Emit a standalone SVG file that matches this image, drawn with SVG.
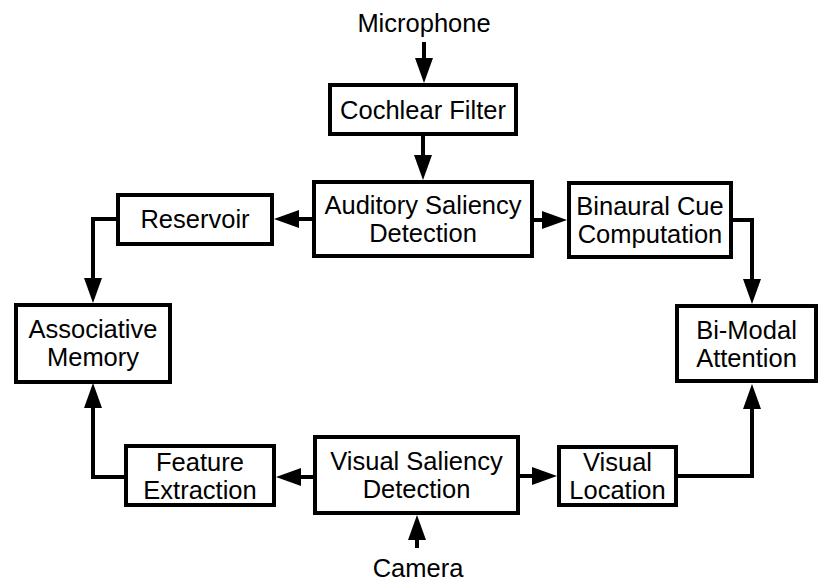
<svg xmlns="http://www.w3.org/2000/svg" width="822" height="583" viewBox="0 0 822 583">
<style>
.box{fill:#fff;stroke:#000;stroke-width:4}
.t{font-family:"Liberation Sans",Arial,sans-serif;font-size:25.5px;fill:#000;text-anchor:middle}
.c{fill:none;stroke:#000;stroke-width:4;marker-end:url(#ah)}
</style>
<defs>
<marker id="ah" markerUnits="userSpaceOnUse" markerWidth="26" markerHeight="18" refX="0" refY="9" orient="auto" overflow="visible">
<path d="M0,0 L25,9 L0,18 Z" fill="#000"/>
</marker>
</defs>
<rect width="822" height="583" fill="#fff"/>
<g id="connectors">
<path class="c" d="M424,42 L424,58"/>
<path class="c" d="M423,136 L423,155"/>
<path class="c" d="M312,219 L299,219"/>
<path class="c" d="M116,219 L93,219 L93,278"/>
<path class="c" d="M534,220 L542,220"/>
<path class="c" d="M733,220 L752,220 L752,279"/>
<path class="c" d="M124,477 L93,477 L93,408"/>
<path class="c" d="M313,477 L301,477"/>
<path class="c" d="M520,476 L532,476"/>
<path class="c" d="M678,476 L752,476 L752,409"/>
<path class="c" d="M417,548 L417,540"/>
</g>
<g id="microphone"><text class="t" x="424" y="32">Microphone</text></g>
<g id="camera"><text class="t" x="418" y="577">Camera</text></g>
<g id="cochlear"><rect class="box" x="330" y="85" width="186" height="49"/><text class="t" x="423" y="119">Cochlear Filter</text></g>
<g id="auditory"><rect class="box" x="314" y="182" width="218" height="74"/><text class="t" x="423" y="214">Auditory Saliency</text><text class="t" x="423" y="242">Detection</text></g>
<g id="reservoir"><rect class="box" x="118" y="195" width="154" height="49"/><text class="t" x="195" y="228">Reservoir</text></g>
<g id="binaural"><rect class="box" x="569" y="183" width="162" height="74"/><text class="t" x="650" y="215">Binaural Cue</text><text class="t" x="650" y="243">Computation</text></g>
<g id="associative"><rect class="box" x="16" y="305" width="154" height="77"/><text class="t" x="93" y="338">Associative</text><text class="t" x="93" y="366">Memory</text></g>
<g id="bimodal"><rect class="box" x="677" y="306" width="139" height="75"/><text class="t" x="746.5" y="339">Bi-Modal</text><text class="t" x="746.5" y="367">Attention</text></g>
<g id="feature"><rect class="box" x="126" y="446" width="148" height="59"/><text class="t" x="200" y="471">Feature</text><text class="t" x="200" y="499">Extraction</text></g>
<g id="visualsal"><rect class="box" x="315" y="437" width="203" height="76"/><text class="t" x="416.5" y="470">Visual Saliency</text><text class="t" x="416.5" y="498">Detection</text></g>
<g id="visualloc"><rect class="box" x="559" y="447" width="117" height="58"/><text class="t" x="617.5" y="471">Visual</text><text class="t" x="617.5" y="499">Location</text></g>
</svg>
